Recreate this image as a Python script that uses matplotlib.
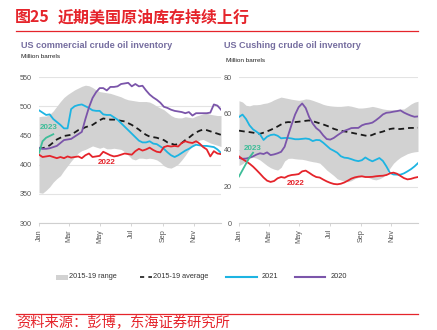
import numpy as np
import matplotlib
matplotlib.use("Agg")
import matplotlib.pyplot as plt
from matplotlib.lines import Line2D
from matplotlib.patches import Rectangle

plt.rcParams['font.family'] = ['Liberation Sans', 'Noto Sans CJK SC', 'DejaVu Sans']

# weekly data, week 0 = first week of Jan
months = ['Jan', 'Mar', 'May', 'Jul', 'Sep', 'Nov']
month_days = [0, 59, 120, 181, 243, 304]

# US commercial crude inventory (million barrels)
com_hi = [482, 483, 483, 486, 492, 500, 508, 515, 520, 524, 528, 531, 534, 536, 535, 532,
          528, 525, 524, 523, 522, 520, 518, 516, 513, 511, 510, 509, 508, 508, 508, 507,
          504, 500, 497, 494, 489, 484, 481, 480, 480, 482, 481, 480, 483, 485, 487, 488,
          486, 485, 484, 484]
com_lo = [352, 351, 356, 362, 370, 376, 381, 390, 398, 406, 413, 420, 424, 426, 429, 432,
          430, 428, 430, 427, 427, 428, 427, 426, 422, 416, 410, 408, 411, 411, 410, 411,
          410, 408, 404, 398, 395, 394, 397, 401, 408, 416, 425, 432, 437, 442, 443, 440,
          437, 435, 433, 431]
com_avg = [428, 428, 430, 433, 438, 443, 446, 449, 450, 451, 455, 459, 461, 464, 466, 468,
           472, 476, 479, 478, 477, 477, 476, 475, 474, 471, 468, 464, 460, 455, 451, 448,
           447, 446, 444, 442, 438, 436, 434, 435, 437, 442, 446, 451, 455, 458, 460, 459,
           457, 455, 453, 451]
com_2021 = [493, 489, 485, 486, 478, 473, 468, 462, 462, 495, 500, 502, 503, 500, 497, 493,
            492, 492, 486, 485, 485, 481, 477, 471, 465, 459, 453, 447, 441, 438, 438, 440,
            436, 435, 431, 427, 421, 416, 413, 416, 420, 424, 427, 431, 434, 433, 432, 432,
            431, 430, 426, 420]
com_2020 = [429, 427, 427, 428, 430, 432, 437, 442, 443, 444, 448, 452, 456, 478, 498, 514,
            524, 531, 531, 527, 533, 533, 534, 538, 539, 540, 534, 538, 534, 535, 527, 520,
            515, 511, 506, 499, 497, 494, 492, 491, 490, 488, 490, 484, 488, 488, 488, 488,
            489, 503, 501, 494]
com_2022 = [417, 413, 414, 415, 413, 411, 413, 411, 414, 412, 413, 414, 411, 416, 419, 413,
            414, 415, 422, 419, 416, 414, 415, 417, 419, 418, 417, 423, 427, 424, 426, 429,
            425, 422, 421, 430, 432, 431, 432, 431, 437, 440, 438, 437, 440, 436, 430, 426,
            414, 423, 419, 418]
com_2023 = [420, 440, 446, 449, 452]

# Cushing crude inventory (million barrels)
cus_hi = [67.0, 66.3, 64.5, 64.2, 64.8, 64.8, 65.0, 65.5, 65.8, 66.5, 67.5, 68.3, 69.0,
          68.6, 68.2, 67.8, 67.5, 67.2, 67.5, 68.0, 67.8, 67.2, 66.5, 65.8, 65.0, 64.5,
          64.2, 64.0, 63.9, 63.9, 64.1, 64.3, 64.0, 63.5, 63.0, 63.0, 63.2, 63.5, 63.9,
          63.5, 63.0, 62.5, 62.2, 62.1, 62.1, 62.2, 62.4, 62.5, 63.8, 65.2, 66.2, 66.7]
cus_lo = [31.5, 32.5, 34.0, 35.5, 36.0, 35.5, 34.5, 33.0, 31.5, 30.3, 29.5, 29.0, 30.5,
          34.0, 35.4, 35.5, 35.2, 35.0, 34.9, 34.5, 34.0, 33.6, 33.3, 32.8, 31.0, 29.0,
          27.5, 26.0, 24.2, 23.5, 23.0, 22.6, 23.2, 24.3, 25.0, 25.4, 25.4, 24.8, 24.0,
          23.6, 24.2, 25.2, 27.0, 30.0, 32.7, 34.5, 36.0, 37.0, 38.0, 38.6, 39.0, 39.2]
cus_avg = [50.6, 50.3, 50.0, 49.8, 49.5, 49.1, 48.9, 49.5, 50.2, 51.0, 51.9, 52.9, 54.0,
           55.0, 55.3, 55.2, 55.3, 55.5, 55.7, 56.0, 56.2, 55.8, 55.2, 54.6, 54.0, 53.3,
           52.5, 51.6, 51.0, 50.5, 50.2, 49.9, 49.5, 49.1, 48.7, 48.3, 47.9, 47.6, 48.3,
           49.1, 49.6, 50.1, 50.8, 51.5, 51.8, 51.5, 51.5, 51.7, 52.0, 52.1, 52.1, 52.2]
cus_2021 = [58.1, 59.4, 57.0, 53.5, 51.3, 50.0, 48.5, 45.5, 47.3, 48.2, 48.5, 47.8, 46.4,
            46.6, 46.6, 46.3, 45.9, 45.9, 46.1, 46.3, 46.0, 44.9, 45.5, 45.4, 44.0, 42.3,
            40.6, 39.6, 38.5, 36.6, 35.8, 35.6, 35.0, 34.3, 33.9, 34.4, 35.9, 34.7, 33.8,
            34.7, 35.6, 34.0, 31.0, 27.5, 26.6, 26.5, 26.5, 27.2, 28.3, 29.5, 31.0, 32.8]
cus_2020 = [35.6, 35.2, 35.3, 35.8, 36.5, 37.5, 38.2, 37.8, 38.7, 37.2, 37.6, 38.2, 39.0,
            41.8, 48.0, 54.0, 59.5, 63.5, 65.5, 63.0, 58.0, 54.5, 52.0, 50.5, 48.0, 46.0,
            45.7, 46.6, 48.0, 49.3, 50.5, 51.2, 52.0, 52.1, 52.1, 53.5, 54.2, 54.5, 55.0,
            56.3, 57.8, 59.5, 60.4, 60.6, 61.0, 61.3, 61.7, 60.5, 59.6, 58.8, 58.2, 58.4]
cus_2022 = [36.5, 35.0, 33.8, 32.5, 30.9, 29.0, 27.0, 24.9, 23.2, 22.5, 23.0, 24.5, 25.2,
            24.8, 25.8, 26.3, 26.5, 26.8, 28.3, 28.7, 27.5, 26.2, 25.2, 24.9, 23.8, 22.8,
            22.0, 21.4, 21.2, 21.5, 22.2, 23.2, 24.3, 25.0, 25.4, 25.6, 25.2, 25.2, 25.3,
            25.6, 25.8, 25.9, 26.3, 27.2, 27.6, 27.0, 25.8, 24.6, 23.9, 24.2, 24.8, 25.2]
cus_2023 = [25.5, 29.0, 32.5, 36.0, 38.5]

RED = '#e5242b'
GRAY = '#d2d2d2'
CYAN = '#1db4e2'
PURPLE = '#7b55aa'
GREEN = '#3dbd98'
TXT = '#555555'
CJK = ['Noto Sans CJK SC', 'DejaVu Sans']

fig = plt.figure(figsize=(4.37, 3.30), dpi=100)
W, H = 437.0, 330.0


def panel(x0, x1, ylim, yticks, hi, lo, avg, y21, y20, y22, y23, lab23, lab22):
    ax = fig.add_axes([x0 / W, 1 - 223 / H, (x1 - x0) / W, 146 / H])
    wk = np.arange(len(hi))
    ax.fill_between(wk, lo, hi, color=GRAY, lw=0, zorder=1)
    ax.plot(wk, avg, color='#1a1a1a', lw=1.3, dashes=(3.2, 2.2), zorder=3)
    ax.plot(wk, y21, color=CYAN, lw=1.3, zorder=4)
    ax.plot(wk, y20, color=PURPLE, lw=1.3, zorder=4)
    ax.plot(wk, y22, color=RED, lw=1.3, zorder=4)
    ax.plot(np.arange(len(y23)), y23, color=GREEN, lw=1.3, zorder=5)
    ax.text(*lab23, '2023', color=GREEN, fontsize=5.8, fontweight='bold',
            ha='center', va='center', zorder=6)
    ax.text(*lab22, '2022', color=RED, fontsize=5.8, fontweight='bold',
            ha='center', va='center', zorder=6)
    ax.set_xlim(0, 51)
    ax.set_ylim(*ylim)
    ax.set_yticks(yticks)
    ax.set_xticks([d / 7 for d in month_days])
    ax.set_xticklabels(months, rotation=90)
    ax.grid(axis='y', color='#e3e3e3', lw=0.8, zorder=0)
    ax.set_axisbelow(True)
    for s in ['left', 'right', 'top']:
        ax.spines[s].set_visible(False)
    ax.spines['bottom'].set_color('#cfcfcf')
    ax.spines['bottom'].set_linewidth(0.8)
    ax.tick_params(axis='y', length=0, labelsize=5.2, labelcolor=TXT, pad=5)
    ax.tick_params(axis='x', length=2.5, width=0.6, color='#cfcfcf',
                   labelsize=5.2, labelcolor=TXT, pad=2)
    return ax


panel(39, 221, (300, 550), range(300, 551, 50), com_hi, com_lo, com_avg,
      com_2021, com_2020, com_2022, com_2023, (2.6, 463), (19, 404))
panel(239, 418, (0, 80), range(0, 81, 20), cus_hi, cus_lo, cus_avg,
      cus_2021, cus_2020, cus_2022, cus_2023, (3.8, 41), (16, 21.4))


def fx(px):
    return px / W


def fy(py):
    return 1 - py / H


# header
fig.text(fx(15), fy(17), '图25', color=RED, fontsize=11.5,
         fontweight='bold', family=CJK, va='center')
fig.text(fx(58), fy(17), '近期美国原油库存持续上行', color=RED, fontsize=11.5,
         fontweight='bold', family=CJK, va='center')
fig.add_artist(Line2D([fx(16), fx(418)], [fy(30.5), fy(30.5)], color=RED, lw=0.9))

fig.text(fx(21), fy(45), 'US commercial crude oil inventory', color='#756d9f',
         fontsize=6.6, fontweight='bold', va='center')
fig.text(fx(21), fy(57), 'Million barrels', color='#222222', fontsize=4.6, va='center')
fig.text(fx(224), fy(45), 'US Cushing crude oil inventory', color='#756d9f',
         fontsize=6.6, fontweight='bold', va='center')
fig.text(fx(226), fy(61), 'Million barrels', color='#222222', fontsize=4.6, va='center')

# legend
ly = fy(277)
fig.add_artist(Rectangle((fx(56), fy(280)), fx(12), 5 / H, color=GRAY, lw=0))
fig.text(fx(69), ly, '2015-19 range', fontsize=5.3, color='#333333', va='center')
fig.add_artist(Line2D([fx(140), fx(152)], [ly, ly], color='#1a1a1a', lw=1.2,
                      dashes=(2.5, 2.5)))
fig.text(fx(153), ly, '2015-19 average', fontsize=5.3, color='#333333', va='center')
fig.add_artist(Line2D([fx(226), fx(257)], [ly, ly], color=CYAN, lw=1.5))
fig.text(fx(262), ly, '2021', fontsize=5.3, color='#333333', va='center')
fig.add_artist(Line2D([fx(295), fx(325)], [ly, ly], color=PURPLE, lw=1.5))
fig.text(fx(331), ly, '2020', fontsize=5.3, color='#333333', va='center')

# footer
fig.add_artist(Line2D([fx(16), fx(418)], [fy(313.5), fy(313.5)], color=RED, lw=0.9))
fig.text(fx(16), fy(316), '资料来源：彭博，东海证券研究所', color=RED, fontsize=10.3,
         family=CJK, va='top')

fig.savefig('out.png', dpi=100, facecolor='white')
